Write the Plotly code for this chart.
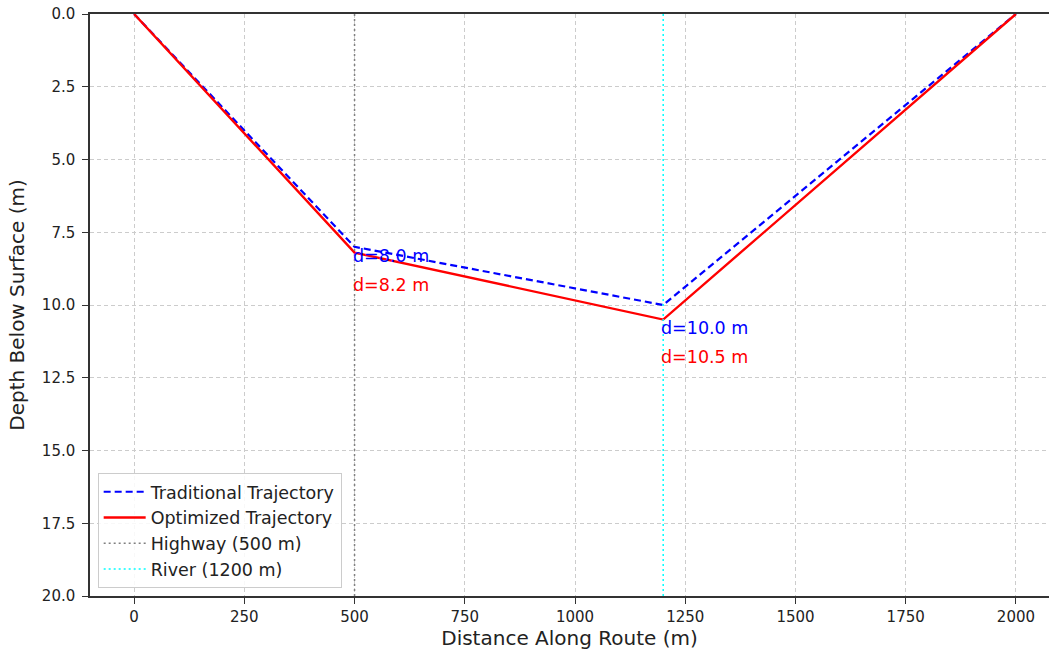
import plotly.graph_objects as go

distance = [0, 500, 1200, 2000]
trad_depth = [0, 8.0, 10.0, 0]
opt_depth = [0, 8.2, 10.5, 0]
highway_x = 500
river_x = 1200
label_x = [500, 1200]
trad_labels = ["d=8.0 m", "d=10.0 m"]
opt_labels = ["d=8.2 m", "d=10.5 m"]
trad_label_y = [8.3, 10.8]
opt_label_y = [9.3, 11.8]
xticks = [0, 250, 500, 750, 1000, 1250, 1500, 1750, 2000]
yticks = [0, 2.5, 5, 7.5, 10, 12.5, 15, 17.5, 20]

font = "DejaVu Sans"
fig = go.Figure()
fig.add_trace(go.Scatter(x=distance, y=trad_depth, mode="lines", name="Traditional Trajectory",
                         legendgroup="a", line=dict(color="blue", width=2.2, dash="7px,4px")))
fig.add_trace(go.Scatter(x=distance, y=opt_depth, mode="lines", name="Optimized Trajectory",
                         legendgroup="b", line=dict(color="red", width=2.4)))
fig.add_trace(go.Scatter(x=[highway_x, highway_x], y=[0, 20], mode="lines", name="Highway (500 m)",
                         legendgroup="c", line=dict(color="gray", width=1.5, dash="2px,3px")))
fig.add_trace(go.Scatter(x=[river_x, river_x], y=[0, 20], mode="lines", name="River (1200 m)",
                         legendgroup="d", line=dict(color="cyan", width=1.5, dash="2px,3px")))

for x, t, y in zip(label_x, trad_labels, trad_label_y):
    fig.add_annotation(x=x, y=y, text=t, showarrow=False, xanchor="left", yanchor="middle",
                       xshift=-4, font=dict(color="blue", size=17.5, family=font))
for x, t, y in zip(label_x, opt_labels, opt_label_y):
    fig.add_annotation(x=x, y=y, text=t, showarrow=False, xanchor="left", yanchor="middle",
                       xshift=-4, font=dict(color="red", size=17.5, family=font))

fig.update_layout(
    width=1049, height=650,
    margin=dict(l=90, r=0, t=14, b=54),
    plot_bgcolor="white", paper_bgcolor="white",
    font=dict(family=font, size=15, color="#222"),
    legend=dict(x=0.008, y=0.014, xanchor="left", yanchor="bottom",
                bgcolor="rgba(255,255,255,0.85)", bordercolor="#ccc", borderwidth=1,
                tracegroupgap=0, itemwidth=42,
                font=dict(size=17.5, family=font, color="#222")),
)
fig.update_xaxes(range=[-100, 2075], tickvals=xticks, ticktext=[str(v) for v in xticks],
                 showgrid=True, gridcolor="#cccccc", griddash="4px,3px", gridwidth=1,
                 showline=True, linecolor="#333", linewidth=1.5, mirror=True,
                 ticks="outside", ticklen=6, tickcolor="#333", zeroline=False, automargin=False,
                 title=dict(text="Distance Along Route (m)", font=dict(size=20), standoff=4))
fig.update_yaxes(range=[20, 0], tickvals=yticks, ticktext=[f"{v:.1f}" for v in yticks],
                 showgrid=True, gridcolor="#cccccc", griddash="4px,3px", gridwidth=1,
                 showline=True, linecolor="#333", linewidth=1.5,
                 ticks="outside", ticklen=6, tickcolor="#333", zeroline=False, automargin=False,
                 ticklabelstandoff=4,
                 title=dict(text="Depth Below Surface (m)", font=dict(size=20), standoff=12))

fig.write_html("out.html", config={"displayModeBar": False},
               post_script="document.body.style.margin='0';")
